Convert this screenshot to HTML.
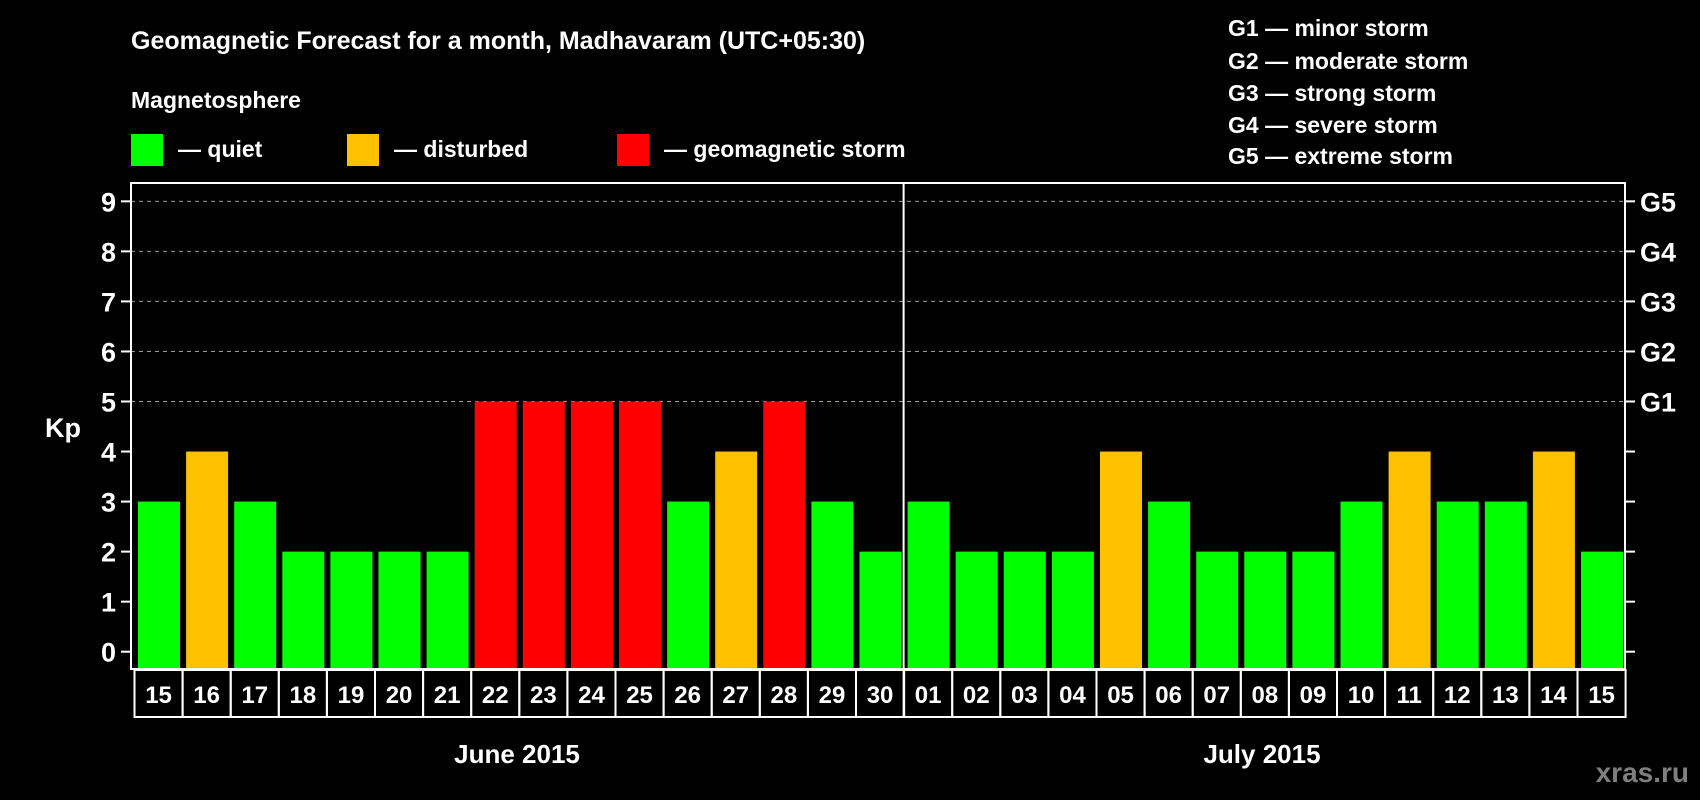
<!DOCTYPE html>
<html><head><meta charset="utf-8"><style>
html,body{margin:0;padding:0;background:#000;}
svg{display:block;font-family:"Liberation Sans",Arial,sans-serif;font-weight:bold;}
</style></head><body>
<svg id="chart" width="1700" height="800" viewBox="0 0 1700 800">
<text x="131" y="49" fill="#fff" font-size="25">Geomagnetic Forecast for a month, Madhavaram (UTC+05:30)</text>
<text x="131" y="108" fill="#fff" font-size="23">Magnetosphere</text>
<g><rect x="131" y="134" width="32" height="32" fill="#00ff00"/><text x="178" y="157" fill="#fff" font-size="23">— quiet</text></g>
<g><rect x="347" y="134" width="32" height="32" fill="#ffc000"/><text x="394" y="157" fill="#fff" font-size="23">— disturbed</text></g>
<g><rect x="617" y="134" width="32" height="32" fill="#ff0000"/><text x="664" y="157" fill="#fff" font-size="23">— geomagnetic storm</text></g>
<g font-size="23" fill="#fff">
<text x="1228" y="36">G1 — minor storm</text>
<text x="1228" y="69">G2 — moderate storm</text>
<text x="1228" y="101">G3 — strong storm</text>
<text x="1228" y="133">G4 — severe storm</text>
<text x="1228" y="164">G5 — extreme storm</text>
</g>
<text x="63" y="437" fill="#fff" font-size="27" text-anchor="middle">Kp</text>
<g id="plot"></g>
<text x="517" y="763" fill="#fff" font-size="26" text-anchor="middle">June 2015</text>
<text x="1262" y="763" fill="#fff" font-size="26" text-anchor="middle">July 2015</text>
<text x="1689" y="782" fill="#7f7f7f" font-size="28" text-anchor="end">xras.ru</text>
</svg>
<script>
const days = ["15","16","17","18","19","20","21","22","23","24","25","26","27","28","29","30","01","02","03","04","05","06","07","08","09","10","11","12","13","14","15"];
const kpValues = [3,4,3,2,2,2,2,5,5,5,5,3,4,5,3,2,3,2,2,2,4,3,2,2,2,3,4,3,3,4,2];
const yTicks = [0,1,2,3,4,5,6,7,8,9];
const gLabels = ["G1","G2","G3","G4","G5"];
const gLevels = [5,6,7,8,9];

const NS = "http://www.w3.org/2000/svg";
const plot = document.getElementById("plot");
const L = 131, R = 1625, T = 183, B = 669;
const slot0 = 134, pitch = 48.1;
function y(v){ return 651.7 - v * 50.04; }
function x(i){ return slot0 + pitch * i; }
function mk(tag, attrs){ const e = document.createElementNS(NS, tag); for (const k in attrs) e.setAttribute(k, attrs[k]); plot.appendChild(e); return e; }
function color(v){ return v >= 5 ? "#ff0000" : (v >= 4 ? "#ffc000" : "#00ff00"); }

yTicks.forEach(t => {
  if (t >= 1 && t <= 9 && t >= 5) {
    const g = mk("line", {x1:L, x2:R, y1:y(t), y2:y(t), stroke:"#999", "stroke-width":1, "stroke-dasharray":"4,4"});
    
    
  }
  const tl = mk("line", {x1:L-10, x2:L, y1:y(t), y2:y(t), stroke:"#fff", "stroke-width":2});
  
  
  const tr = mk("line", {x1:R, x2:R+10, y1:y(t), y2:y(t), stroke:"#fff", "stroke-width":2});
  
  
  const lab = mk("text", {x:116, y:y(t)+10, fill:"#fff", "font-size":27, "text-anchor":"end"});
  lab.textContent = t;
  
  
});
gLabels.forEach((g, i) => {
  const t = mk("text", {x:1640, y:y(gLevels[i])+10, fill:"#fff", "font-size":27});
  t.textContent = g;
  
  
});
kpValues.forEach((v, i) => {
  const b = mk("rect", {x:x(i)+4, y:y(v), width:42, height:B - y(v), fill:color(v)});
  
  
  const box = mk("rect", {x:x(i)+0.5, y:B+1, width:pitch, height:47, fill:"none", stroke:"#fff", "stroke-width":2});
  
  
  const t = mk("text", {x:x(i)+pitch/2+0.5, y:B+34, fill:"#fff", "font-size":24, "text-anchor":"middle"});
  t.textContent = days[i];
  
  
});
const frame = mk("rect", {x:L, y:T, width:R-L, height:B-T, fill:"none", stroke:"#fff", "stroke-width":2});


const sep = mk("line", {x1:x(16), x2:x(16), y1:T, y2:B+48, stroke:"#fff", "stroke-width":2});


</script>
</body></html>
